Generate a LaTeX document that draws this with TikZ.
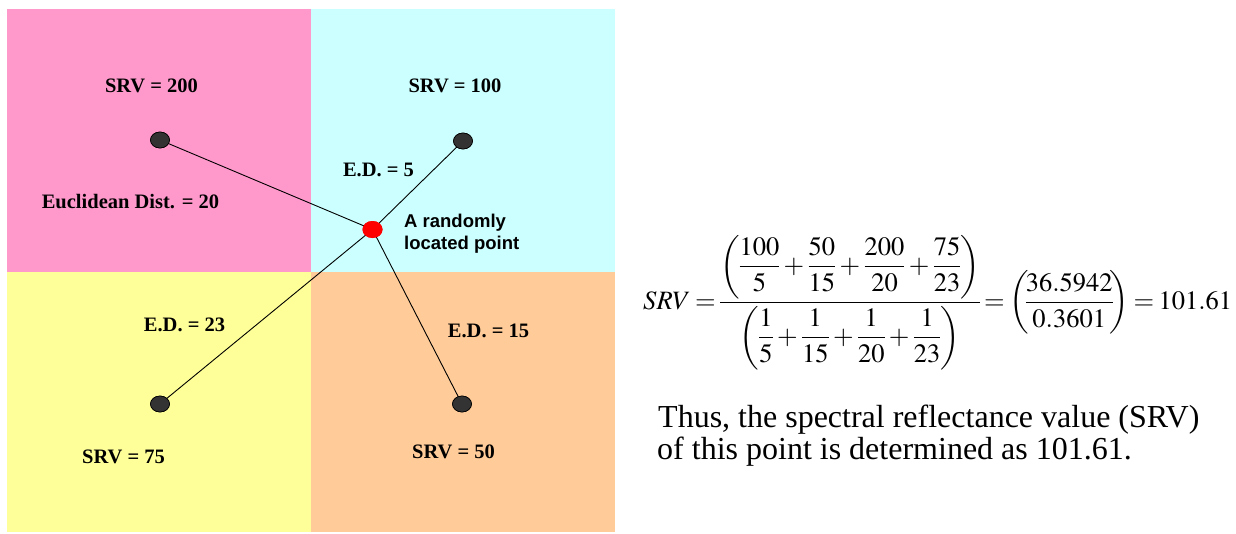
\documentclass[tikz,border=0pt]{standalone}
\usepackage{amsmath}
\usepackage{mathptmx}
\usepackage{fontspec}
\setmainfont{Liberation Serif}
\newfontfamily\arialfont{Liberation Sans}
\usetikzlibrary{shapes.geometric}
\definecolor{qpink}{HTML}{FF99CC}
\definecolor{qcyan}{HTML}{CCFFFF}
\definecolor{qyellow}{HTML}{FFFF99}
\definecolor{qorange}{HTML}{FFCC99}
\definecolor{dotgray}{HTML}{333333}
\tikzset{
  lbl/.style={font=\fontsize{20.5}{24}\selectfont\bfseries, inner sep=0pt},
  sample/.style={ellipse, draw=black, line width=0.6pt, fill=dotgray, minimum width=19pt, minimum height=16pt, inner sep=0pt},
  target/.style={ellipse, fill=red, minimum width=20pt, minimum height=17pt, inner sep=0pt},
  conn/.style={line width=0.9pt, black},
  bodytext/.style={font=\fontsize{32}{38}\selectfont, inner sep=0pt, anchor=base west}
}
\begin{document}
\begin{tikzpicture}[x=1pt,y=-1pt]
\useasboundingbox (0,0) rectangle (1236,533);
\fill[white] (0,0) rectangle (1236,533);
% quadrants
\fill[qpink] (7,9) rectangle (311,272);
\fill[qcyan] (311,9) rectangle (615,272);
\fill[qyellow] (7,272) rectangle (311,532);
\fill[qorange] (311,272) rectangle (615,532);
% points
\node[target] (p) at (372.5,229.5) {};
\node[sample] (ul) at (160,140) {};
\node[sample] (ur) at (463,141) {};
\node[sample] (ll) at (160,404) {};
\node[sample] (lr) at (462,404) {};
\draw[conn] (p.center) -- (ul.center);
\draw[conn] (p.center) -- (ur.center);
\draw[conn] (p.center) -- (ll.center);
\draw[conn] (p.center) -- (lr.center);
\node[target] at (p) {};
\foreach \n in {ul,ur,ll,lr} {\node[sample] at (\n) {};}
% labels
\node[lbl] (l1) at (151.5,86) {SRV = 200};
\node[lbl] (l2) at (455,86) {SRV = 100};
\node[lbl] (l3) at (130.5,202) {Euclidean Dist. = 20};
\node[lbl] (l4) at (378.5,170) {E.D. = 5};
\node[lbl] (l5) at (184.5,325) {E.D. = 23};
\node[lbl] (l6) at (488.5,331) {E.D. = 15};
\node[lbl] (l7) at (123.5,457) {SRV = 75};
\node[lbl] (l8) at (453.5,452) {SRV = 50};
\node[inner sep=0pt, anchor=west, align=left, font=\arialfont\bfseries\fontsize{18.5}{22}\selectfont] (pl) at (404,233.5) {A randomly\\located point};
% formula
\node[inner sep=0pt, anchor=base west, font=\fontsize{26.5}{32}\selectfont] (f) at (643,309)
{$\thickmuskip=3mu\medmuskip=3mu\nulldelimiterspace=0pt\displaystyle SRV=\frac{\left(\dfrac{100}{5}+\dfrac{50}{15}+\dfrac{200}{20}+\dfrac{75}{23}\right)}{\left(\dfrac{1}{5}+\dfrac{1}{15}+\dfrac{1}{20}+\dfrac{1}{23}\right)}=\left(\!\dfrac{36.5942}{0.3601}\!\right)=101.61$};
\node[bodytext] (t1) at (658,427) {Thus, the spectral reflectance value (SRV)};
\node[bodytext] (t2) at (657,459) {of this point is determined as 101.61.};
\end{tikzpicture}
\end{document}
